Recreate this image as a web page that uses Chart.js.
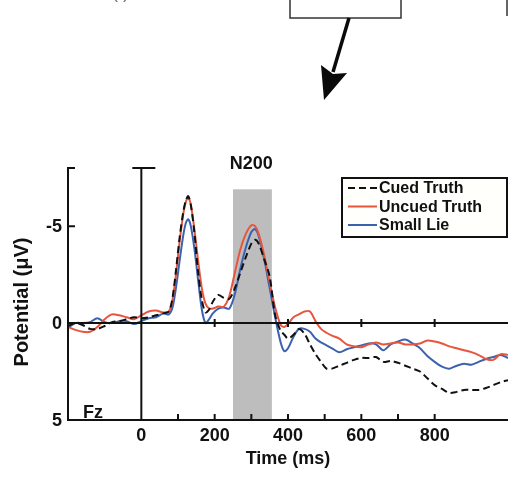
<!DOCTYPE html>
<html>
<head>
<meta charset="utf-8">
<script src="https://cdn.jsdelivr.net/npm/chart.js@4/dist/chart.umd.min.js"></script>
<style>
  html, body { margin: 0; padding: 0; background: #fff; }
  canvas { display: block; }
</style>
</head>
<body>
<canvas id="erpChart" width="508" height="484"></canvas>
<script>
// Data (time in ms, potential in µV; negative plotted up)
const times = [-200, -180, -160, -140, -120, -100, -80, -60, -40, -20, 0, 20, 40, 60, 75, 85, 95, 105, 115, 122, 128, 135, 145, 155, 165, 175, 185, 195, 210, 225, 240, 255, 270, 285, 300, 310, 320, 335, 350, 365, 380, 390, 400, 415, 430, 445, 460, 475, 490, 505, 520, 540, 560, 580, 600, 620, 640, 660, 680, 700, 720, 740, 760, 780, 800, 820, 840, 860, 880, 900, 920, 940, 960, 980, 1000];

const cuedTruth = [0.15, 0.0, 0.1, 0.3, 0.3, 0.15, -0.05, -0.1, -0.2, -0.3, -0.25, -0.3, -0.4, -0.5, -0.6, -1.3, -2.8, -4.5, -5.8, -6.35, -6.55, -6.1, -4.6, -2.6, -1.2, -0.55, -0.7, -1.1, -1.45, -1.3, -1.25, -1.8, -2.6, -3.4, -4.1, -4.3, -4.1, -3.3, -2.4, -0.4, 0.4, 0.6, 0.8, 0.6, 0.3, 0.55, 1.1, 1.6, 2.0, 2.35, 2.35, 2.2, 2.05, 1.9, 1.8, 1.8, 1.75, 2.0, 1.95, 2.05, 2.2, 2.35, 2.5, 2.85, 3.2, 3.4, 3.6, 3.55, 3.45, 3.45, 3.45, 3.35, 3.2, 3.05, 2.95];

const uncuedTruth = [0.2, 0.35, 0.45, 0.45, 0.2, -0.2, -0.45, -0.4, -0.3, -0.2, -0.4, -0.6, -0.65, -0.55, -0.6, -1.2, -2.6, -4.3, -5.7, -6.3, -6.45, -6.1, -4.8, -3.2, -1.8, -1.0, -0.75, -0.75, -0.85, -0.85, -1.4, -2.6, -3.8, -4.6, -5.05, -5.0, -4.6, -3.5, -2.1, -0.8, 0.1, 0.2, 0.05, -0.3, -0.45, -0.6, -0.6, -0.1, 0.3, 0.5, 0.65, 0.8, 1.1, 1.2, 1.25, 1.1, 1.0, 1.1, 1.05, 1.0, 1.1, 1.1, 1.05, 0.9, 0.95, 1.05, 1.2, 1.3, 1.4, 1.5, 1.65, 1.85, 1.9, 1.6, 1.65];

const smallLie = [0.25, 0.0, 0.0, -0.05, -0.25, -0.05, 0.0, -0.1, -0.1, 0.05, -0.1, -0.25, -0.3, -0.5, -0.45, -0.8, -1.9, -3.3, -4.6, -5.2, -5.35, -5.0, -3.8, -2.2, -0.7, 0.0, -0.2, -0.5, -0.75, -0.8, -0.75, -1.5, -2.8, -3.9, -4.7, -4.85, -4.5, -3.3, -1.8, -0.3, 1.0, 1.45, 1.3, 0.7, 0.3, 0.3, 0.45, 0.8, 1.0, 1.15, 1.3, 1.5, 1.35, 1.25, 1.15, 1.05, 1.1, 1.4, 1.1, 0.95, 0.85, 1.05, 1.3, 1.7, 2.0, 2.25, 2.35, 2.2, 2.1, 2.15, 2.0, 1.85, 1.75, 1.65, 1.8];

const seriesNames = ['Cued Truth', 'Uncued Truth', 'Small Lie'];
const xTickLabels = [0, 200, 400, 600, 800];
const xMinorTicks = [100, 200, 300, 400, 500, 600, 700, 800];
const yTickLabels = [-5, 0, 5];
const n200Window = [250, 356];

const FONT = '"Liberation Sans", Arial, Helvetica, sans-serif';
const RED = '#e8553c';
const BLUE = '#3b62b0';

function toPoints(values) {
    return times.map((t, i) => ({ x: t, y: values[i] }));
}

// Decorations: axes, N200 band, legend, arrow
const figureDecor = {
    id: 'figureDecor',
    beforeDatasetsDraw(chart) {
        const ctx = chart.ctx;
        const xs = chart.scales.x, ys = chart.scales.y;
        const area = chart.chartArea;
        const x0 = xs.getPixelForValue(n200Window[0]);
        const x1 = xs.getPixelForValue(n200Window[1]);
        const yTop = ys.getPixelForValue(-6.9);
        ctx.save();
        ctx.fillStyle = '#bdbdbd';
        ctx.fillRect(x0, yTop, x1 - x0, area.bottom - yTop);
        ctx.restore();
    },
    afterDatasetsDraw(chart) {
        const ctx = chart.ctx;
        const xs = chart.scales.x, ys = chart.scales.y;
        const area = chart.chartArea;
        const zeroY = ys.getPixelForValue(0);
        const zeroX = xs.getPixelForValue(0);

        ctx.save();
        ctx.strokeStyle = '#111';
        ctx.fillStyle = '#111';
        ctx.lineWidth = 2;

        // left spine + bottom axis
        ctx.beginPath();
        ctx.moveTo(area.left + 7, area.top);
        ctx.lineTo(area.left, area.top);
        ctx.lineTo(area.left, area.bottom);
        ctx.lineTo(area.right, area.bottom);
        ctx.stroke();

        // y = 0 line and t = 0 line
        ctx.beginPath();
        ctx.moveTo(area.left, zeroY);
        ctx.lineTo(area.right, zeroY);
        ctx.moveTo(zeroX, area.top);
        ctx.lineTo(zeroX, area.bottom);
        ctx.moveTo(zeroX - 9, area.top);
        ctx.lineTo(zeroX + 14, area.top);
        ctx.stroke();

        // y ticks
        ctx.beginPath();
        yTickLabels.forEach(v => {
            const y = ys.getPixelForValue(v);
            ctx.moveTo(area.left, y);
            ctx.lineTo(area.left + 7, y);
        });
        // x ticks on bottom axis
        xMinorTicks.forEach(t => {
            const x = xs.getPixelForValue(t);
            ctx.moveTo(x, area.bottom);
            ctx.lineTo(x, area.bottom - 6);
        });
        // x ticks on zero line
        xTickLabels.slice(1).forEach(t => {
            const x = xs.getPixelForValue(t);
            ctx.moveTo(x, zeroY - 4);
            ctx.lineTo(x, zeroY + 4);
        });
        ctx.stroke();

        // tick labels
        ctx.font = 'bold 18px ' + FONT;
        ctx.textAlign = 'right';
        ctx.textBaseline = 'middle';
        yTickLabels.forEach(v => {
            ctx.fillText(String(v), 62, ys.getPixelForValue(v) + 1);
        });
        ctx.textAlign = 'center';
        ctx.textBaseline = 'alphabetic';
        xTickLabels.forEach(t => {
            ctx.fillText(String(t), xs.getPixelForValue(t), 441);
        });

        // axis titles
        ctx.fillText('Time (ms)', (area.left + area.right) / 2, 464);
        ctx.fillText('N200', xs.getPixelForValue(300), 169);
        ctx.save();
        ctx.font = 'bold 20px ' + FONT;
        ctx.translate(28, 302);
        ctx.rotate(-Math.PI / 2);
        ctx.fillText('Potential (\u03BCV)', 0, 0);
        ctx.restore();

        ctx.textAlign = 'left';
        ctx.fillText('Fz', 83, 418);

        // legend
        const lx = 342, ly = 178, lw = 165, lh = 59;
        ctx.fillStyle = '#fffffb';
        ctx.fillRect(lx, ly, lw, lh);
        ctx.strokeStyle = '#111';
        ctx.strokeRect(lx, ly, lw, lh);
        const colors = ['#111', RED, BLUE];
        const rows = [188, 206.5, 225];
        ctx.font = 'bold 16px ' + FONT;
        ctx.textBaseline = 'middle';
        seriesNames.forEach((name, i) => {
            ctx.strokeStyle = colors[i];
            ctx.setLineDash(i === 0 ? [7, 4] : []);
            ctx.beginPath();
            ctx.moveTo(348, rows[i]);
            ctx.lineTo(377, rows[i]);
            ctx.stroke();
            ctx.setLineDash([]);
            ctx.fillStyle = '#111';
            ctx.fillText(name, 379, rows[i] + 1);
        });

        // cropped panel pieces above the plot
        ctx.strokeStyle = '#333';
        ctx.lineWidth = 1.5;
        ctx.strokeRect(290, -5, 111, 23);
        ctx.beginPath();
        ctx.moveTo(507, 0);
        ctx.lineTo(507, 16);
        ctx.stroke();
        ctx.fillStyle = '#777';
        ctx.font = '18px ' + FONT;
        ctx.textBaseline = 'alphabetic';
        ctx.fillText('( )', 112, -2);

        // arrow
        ctx.strokeStyle = '#0a0a0a';
        ctx.fillStyle = '#0a0a0a';
        ctx.lineWidth = 3.5;
        ctx.beginPath();
        ctx.moveTo(349, 18);
        ctx.lineTo(333, 72);
        ctx.stroke();
        ctx.beginPath();
        ctx.moveTo(324, 100);
        ctx.lineTo(321, 65);
        ctx.lineTo(333, 74);
        ctx.lineTo(347, 73);
        ctx.closePath();
        ctx.fill();

        ctx.restore();
    }
};

const chart = new Chart(document.getElementById('erpChart'), {
    type: 'line',
    data: {
        datasets: [
            { label: seriesNames[0], data: toPoints(cuedTruth), borderColor: '#111', borderDash: [7, 4] },
            { label: seriesNames[1], data: toPoints(uncuedTruth), borderColor: RED },
            { label: seriesNames[2], data: toPoints(smallLie), borderColor: BLUE }
        ]
    },
    options: {
        responsive: false,
        animation: false,
        devicePixelRatio: 1,
        layout: { padding: { left: 68, top: 168, right: 0, bottom: 64 } },
        elements: {
            point: { radius: 0 },
            line: { borderWidth: 2, tension: 0.3, fill: false }
        },
        scales: {
            x: { type: 'linear', min: -200, max: 1000, display: false },
            y: { type: 'linear', min: -8, max: 5, reverse: true, display: false }
        },
        plugins: {
            legend: { display: false },
            tooltip: { enabled: false }
        }
    },
    plugins: [figureDecor]
});
</script>
</body>
</html>
